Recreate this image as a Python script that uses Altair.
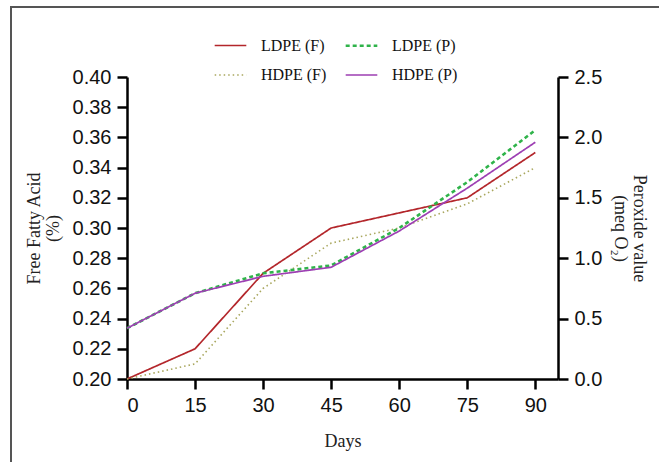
import altair as alt
import pandas as pd

days = [0, 15, 30, 45, 60, 75, 90]
ldpe_f = [0.200, 0.220, 0.270, 0.300, 0.310, 0.320, 0.350]
hdpe_f = [0.200, 0.210, 0.260, 0.290, 0.300, 0.316, 0.340]
ldpe_p = [0.42, 0.71, 0.875, 0.94, 1.25, 1.63, 2.06]
hdpe_p = [0.42, 0.71, 0.85, 0.925, 1.225, 1.58, 1.96]

# legend is filled column by column
series = ["LDPE (F)", "HDPE (F)", "LDPE (P)", "HDPE (P)"]
colors = ["#b3262b", "#a9a75e", "#2fb34a", "#9d3fb3"]
dashes = [[1, 0], [1.5, 3], [4, 3], [1, 0]]
widths = [1.7, 1.6, 2.6, 1.7]

x_ticks = [0, 15, 30, 45, 60, 75, 90]
ffa_ticks = [0.20, 0.22, 0.24, 0.26, 0.28, 0.30, 0.32, 0.34, 0.36, 0.38, 0.40]
pv_ticks = [0.0, 0.5, 1.0, 1.5, 2.0, 2.5]

df_f = pd.DataFrame(
    {"Days": days * 2, "value": ldpe_f + hdpe_f,
     "Series": ["LDPE (F)"] * 7 + ["HDPE (F)"] * 7}
)
df_p = pd.DataFrame(
    {"Days": days * 2, "value": ldpe_p + hdpe_p,
     "Series": ["LDPE (P)"] * 7 + ["HDPE (P)"] * 7}
)

legend = alt.Legend(
    title=None, orient="none", legendX=86, legendY=-49, columns=2,
    symbolType="stroke", symbolSize=1000, labelOffset=13, columnPadding=13,
    rowPadding=4, labelFont="Liberation Serif", labelFontSize=16,
    labelColor="#111", labelLimit=200,
)

color = alt.Color("Series:N", scale=alt.Scale(domain=series, range=colors), legend=legend)
dash = alt.StrokeDash("Series:N", scale=alt.Scale(domain=series, range=dashes), legend=legend)
sw = alt.StrokeWidth("Series:N", scale=alt.Scale(type="ordinal", domain=series, range=widths), legend=legend)

x = alt.X(
    "Days:Q",
    scale=alt.Scale(domain=[0, 95], nice=False, zero=False),
    axis=alt.Axis(values=x_ticks, title="Days", titlePadding=17, grid=False),
)

left = alt.Chart(df_f).mark_line(clip=False).encode(
    x=x,
    y=alt.Y(
        "value:Q",
        scale=alt.Scale(domain=[0.2, 0.4], nice=False, zero=False),
        axis=alt.Axis(values=ffa_ticks, format=".2f", title=["Free Fatty Acid", "(%)"],
                      orient="left", titlePadding=10, grid=False),
    ),
    color=color, strokeDash=dash, strokeWidth=sw,
    order=alt.Order("Days:Q"),
)

right = alt.Chart(df_p).mark_line(clip=False).encode(
    x=x,
    y=alt.Y(
        "value:Q",
        scale=alt.Scale(domain=[0, 2.5], nice=False, zero=False),
        axis=alt.Axis(values=pv_ticks, format=".1f", title=["Peroxide value", "(meq O₂)"],
                      orient="right", titleAngle=90, titlePadding=9, grid=False),
    ),
    color=color, strokeDash=dash, strokeWidth=sw,
    order=alt.Order("Days:Q"),
)

frame_v = alt.Chart(df_f).mark_rule(color="#555555", strokeWidth=2).encode(
    x=alt.value(-116), y=alt.value(-70), y2=alt.value(400)
)
frame_h = alt.Chart(df_f).mark_rule(color="#555555", strokeWidth=2).encode(
    x=alt.value(-117), x2=alt.value(540), y=alt.value(-70)
)

chart = (
    alt.layer(left, right, frame_v, frame_h)
    .resolve_scale(y="independent")
    .properties(
        width=431, height=302,
        autosize=alt.AutoSizeParams(type="none"),
        padding={"left": 127, "top": 77, "right": 101, "bottom": 83},
        background="white",
    )
    .configure_view(stroke=None)
    .configure_axis(
        domainColor="black", domainWidth=2.5, tickColor="black", tickWidth=2.5,
        tickSize=10, labelFont="Liberation Sans", labelFontSize=20, labelColor="#111",
        labelPadding=6, titleFont="Liberation Serif", titleFontSize=18,
        titleFontWeight="normal", titleColor="#222", titleLineHeight=19,
    )
)

chart.save("out.html", embed_options={"renderer": "svg", "actions": False})
